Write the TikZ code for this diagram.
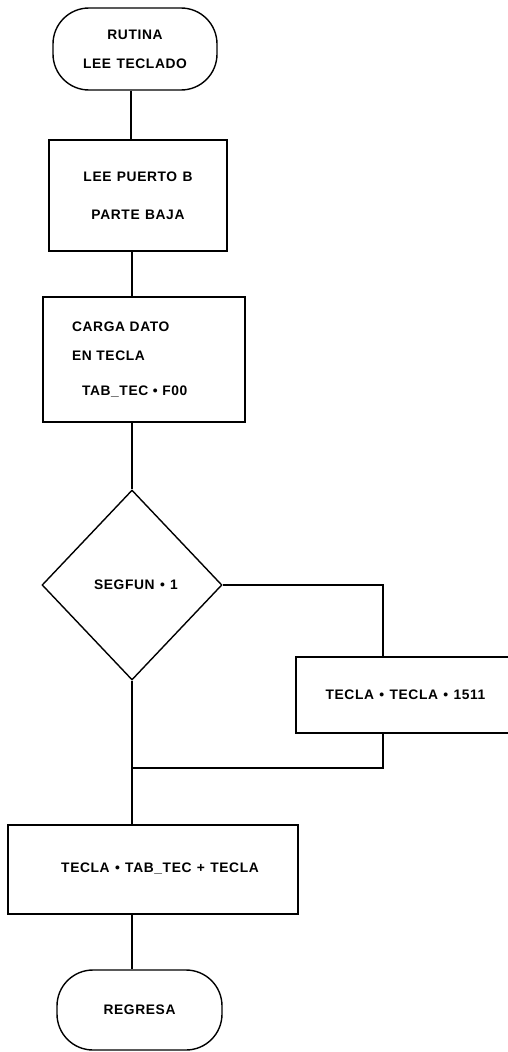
\documentclass[tikz,border=0pt]{standalone}
\usepackage{fontspec}
\setmainfont{Liberation Sans}[LetterSpace=4.5,WordSpace=1.2]
\usetikzlibrary{shapes.geometric}
\begin{document}
\begin{tikzpicture}[x=1pt,y=-1pt,
  every node/.style={font=\fontsize{13.8}{16}\selectfont\bfseries},
  ln/.style={line width=1.4pt},
  terminal/.style={draw,ln,rectangle,rounded corners=36pt,inner sep=0pt},
  proc/.style={draw,ln,rectangle,inner sep=0pt},
  decision/.style={draw,ln,diamond,inner sep=0pt,minimum width=180pt,minimum height=190pt}]
\useasboundingbox (0,0) rectangle (508,1052);
\clip (0,0) rectangle (508,1052);
\node[terminal,minimum width=164pt,minimum height=82pt,align=center] (t1) at (135,49)
  {RUTINA\\[13pt]LEE TECLADO};
\node[proc,minimum width=178pt,minimum height=111pt,align=center] (b1) at (138,195.5)
  {LEE PUERTO B\\[22pt]PARTE BAJA};
\node[proc,minimum width=202pt,minimum height=125pt,text width=144pt,align=left] (b2) at (144,359.5)
  {CARGA DATO\\[13pt]EN TECLA\\[19pt]\hspace*{10pt}TAB\_TEC • F00};
\node[decision] (d) at (132,585) {\hspace*{8pt}SEGFUN • 1};
\node[proc,minimum width=219pt,minimum height=76pt] (b3) at (405.5,695) {TECLA • TECLA • 1511};
\node[proc,minimum width=290pt,minimum height=89pt] (b4) at (153,869.5) {\raisebox{4pt}{\hspace*{14pt}TECLA • TAB\_TEC + TECLA}};
\node[terminal,minimum width=165pt,minimum height=80pt] (t2) at (139.5,1010) {REGRESA};
\coordinate (j) at (383,768);
\draw[ln] (t1.south -| 131,0) -- (b1.north -| 131,0);
\draw[ln] (b1.south -| 132,0) -- (b2.north -| 132,0);
\draw[ln] (b2.south -| 132,0) -- (d.north);
\draw[ln] (d.east) -| (b3.north -| j);
\draw[ln] (b3.south -| j) -- (j) -- (j -| d.south);
\draw[ln] (d.south) -- (b4.north -| d.south);
\draw[ln] (b4.south -| d.south) -- (t2.north -| d.south);
\end{tikzpicture}
\end{document}
